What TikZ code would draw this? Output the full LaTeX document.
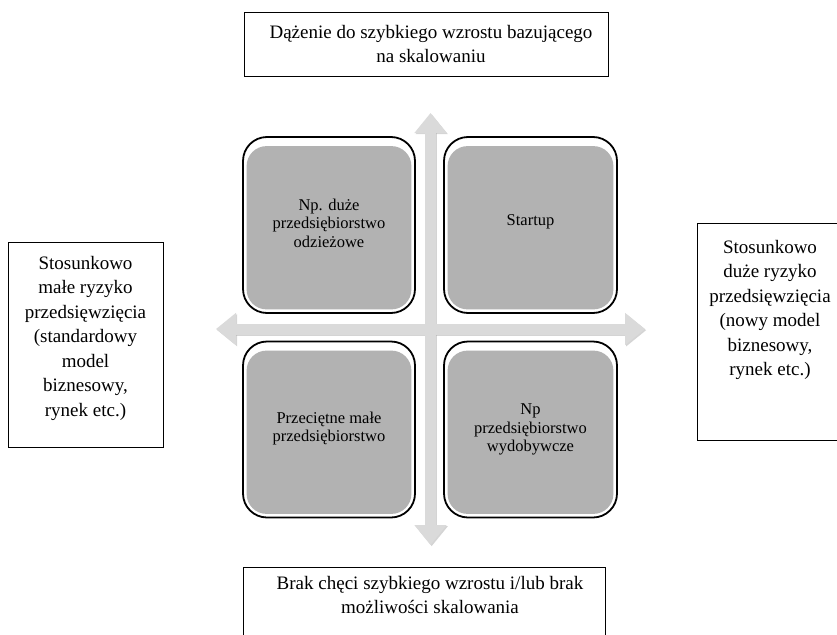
\documentclass[tikz,border=0pt]{standalone}
\usepackage{fontspec}
\setmainfont{Liberation Serif}
\usetikzlibrary{arrows.meta}
\definecolor{quadgray}{RGB}{178,178,178}
\definecolor{arrowgray}{RGB}{218,218,218}
\definecolor{arrowshade}{RGB}{170,170,170}
\begin{document}
\begin{tikzpicture}[x=1pt,y=-1pt,
  outerbox/.style={draw=black,line width=0.9pt,fill=white},
  outertext/.style={align=center,font=\fontsize{19}{24.5}\selectfont,inner sep=0pt},
  quadframe/.style={rectangle,draw=black,line width=1.8pt,fill=white,rounded corners=24pt,inner sep=0pt},
  quadfill/.style={fill=quadgray,rounded corners=20pt},
  quadtext/.style={align=center,font=\fontsize{16.5}{18.5}\selectfont,inner sep=0pt},
  axisarrow/.style={line width=11pt,{Triangle[width=31pt,length=20pt]}-{Triangle[width=31pt,length=20pt]}},
]
\useasboundingbox (0,0) rectangle (837,634);
\clip (0,0) rectangle (837,634);

% axes
\coordinate (vt) at (430.5,113);
\coordinate (vb) at (430.5,545);
\coordinate (hl) at (216,329);
\coordinate (hr) at (645,329);
\draw[axisarrow,arrowshade,opacity=0.5] ([xshift=1.2pt,yshift=-1.2pt]vt) -- ([xshift=1.2pt,yshift=-1.2pt]vb);
\draw[axisarrow,arrowshade,opacity=0.5] ([xshift=1.2pt,yshift=-1.2pt]hl) -- ([xshift=1.2pt,yshift=-1.2pt]hr);
\draw[axisarrow,arrowgray] (vt) -- (vb);
\draw[axisarrow,arrowgray] (hl) -- (hr);

% quadrants
\node[quadframe,minimum width=172pt,minimum height=176pt] (q1) at (329,225) {};
\node[quadframe,minimum width=173pt,minimum height=176pt] (q2) at (530.5,225) {};
\node[quadframe,minimum width=172pt,minimum height=176pt] (q3) at (329,429.5) {};
\node[quadframe,minimum width=173pt,minimum height=176pt] (q4) at (530.5,429.5) {};
\foreach \q in {q1,q2,q3,q4}{
  \fill[quadfill] ([xshift=4.5pt,yshift=-10pt]\q.north west) rectangle ([xshift=-4.5pt,yshift=4.5pt]\q.south east);
}
\node[quadtext] (t1) at ([yshift=2pt]q1.center) {Np. duże\\przedsiębiorstwo\\odzieżowe};
\node[quadtext] (t2) at ([yshift=3pt]q2.center) {Startup};
\node[quadtext] (t3) at ([yshift=1pt]q3.center) {Przeciętne małe\\przedsiębiorstwo};
\node[quadtext] (t4) at (q4.center) {Np\\przedsiębiorstwo\\wydobywcze};

% outer boxes
\draw[outerbox] (244,12) rectangle (608,76);
\node[outertext] (top) at (431,44) {Dążenie do szybkiego wzrostu bazującego\\na skalowaniu};
\draw[outerbox] (243,567) rectangle (605,660);
\node[outertext] (bottom) at (430,595) {Brak chęci szybkiego wzrostu i/lub brak\\możliwości skalowania};
\draw[outerbox] (8,242) rectangle (163,447);
\node[outertext,anchor=north] (left) at (85.5,256) {Stosunkowo\\małe ryzyko\\przedsięwzięcia\\(standardowy\\model\\biznesowy,\\rynek etc.)};
\draw[outerbox] (697,223) rectangle (845,440);
\node[outertext,anchor=north] (right) at (770,240) {Stosunkowo\\duże ryzyko\\przedsięwzięcia\\(nowy model\\biznesowy,\\rynek etc.)};
\end{tikzpicture}
\end{document}
